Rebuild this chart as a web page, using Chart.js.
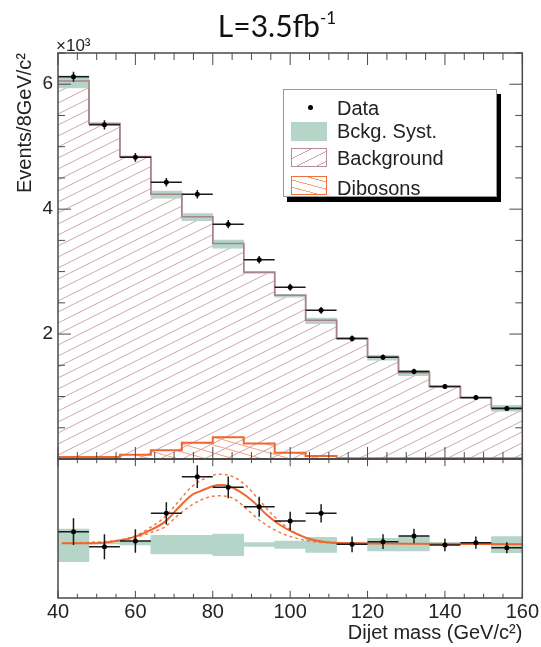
<!DOCTYPE html>
<html>
<head>
<meta charset="utf-8">
<script src="https://cdn.jsdelivr.net/npm/chart.js@4.4.1/dist/chart.umd.min.js"></script>
<style>
body { margin: 0; background: #fff; }
#wrap { position: relative; width: 541px; height: 647px; font-family: "Liberation Sans", Arial, sans-serif; color: #222; }
#c { position: absolute; left: 0; top: 0; }
#title { position: absolute; left: 177px; width: 200px; top: 10px; text-align: center; font: 30px/30px Lato, sans-serif; color: #111; }
#title sup { font-size: 17px; vertical-align: 13px; line-height: 0; }
#exp { position: absolute; left: 56px; top: 37px; font-size: 17px; line-height: 17px; }
#legend { position: absolute; left: 283px; top: 89px; width: 212px; height: 106px; border: 1px solid #999; background: #fff; box-shadow: 4px 5px 0 #000; }
.sw { position: absolute; left: 7px; width: 36px; box-sizing: border-box; }
.lab { position: absolute; left: 53px; font-size: 20px; line-height: 20px; white-space: nowrap; }
#dot { position: absolute; left: 24px; top: 15px; width: 5px; height: 5px; border-radius: 50%; background: #000; }
</style>
</head>
<body>
<div id="wrap">
  <canvas id="c" width="541" height="647"></canvas>
  <div id="title">L=3.5fb<sup>-1</sup></div>
  <div id="exp">×10³</div>
  <div id="legend">
    <div id="dot"></div>
    <div class="lab" style="top:8px">Data</div>
    <div class="sw" style="top:32px;height:19px;background:#b4d5c7"></div>
    <div class="lab" style="top:31px">Bckg. Syst.</div>
    <div class="sw" style="top:58px;height:19px;border:1px solid #b58f95;background:repeating-linear-gradient(153deg,transparent 0 8px,#c6a5aa 8px 9px)"></div>
    <div class="lab" style="top:58px">Background</div>
    <div class="sw" style="top:86px;height:19px;border:1.5px solid #f0703c;background:repeating-linear-gradient(15deg,transparent 0 6px,#f6a07a 6px 7px)"></div>
    <div class="lab" style="top:88px">Dibosons</div>
  </div>
</div>
<script>
// bin centres (GeV/c2), 8 GeV bins
var massBins = [44, 52, 60, 68, 76, 84, 92, 100, 108, 116, 124, 132, 140, 148, 156];
var binHalf = 4;
var massMax = 160;

// top panel, x10^3 events
var dataEvents = [6.12, 5.35, 4.83, 4.43, 4.24, 3.76, 3.19, 2.75, 2.38, 1.93, 1.63, 1.40, 1.16, 0.985, 0.81];
var dataErr = [0.08, 0.075, 0.07, 0.067, 0.068, 0.065, 0.06, 0.056, 0.055, 0.047, 0.044, 0.043, 0.038, 0.037, 0.033];
var background = [6.05, 5.37, 4.84, 4.24, 3.88, 3.45, 2.99, 2.62, 2.22, 1.93, 1.63, 1.38, 1.16, 0.98, 0.82];
var dibosons = [0.03, 0.03, 0.07, 0.14, 0.26, 0.35, 0.25, 0.10, 0.05, 0.01, 0.01, 0.01, 0.01, 0.01, 0.01];

// background systematic band (relative to background)
var systLow = [-0.11, -0.004, -0.01, -0.064, -0.064, -0.074, -0.018, -0.03, -0.054, -0.004, -0.046, -0.046, -0.006, -0.008, -0.056];
var systHigh = [0.085, 0.004, 0.012, 0.048, 0.048, 0.056, 0.004, 0.014, 0.036, 0.004, 0.03, 0.04, 0.004, 0.006, 0.04];

// lower panel: data - background
var residual = [0.07, -0.02, 0.014, 0.18, 0.40, 0.336, 0.22, 0.134, 0.18, -0.006, 0.01, 0.044, -0.01, 0.004, -0.026];

// diboson fit curve and its band
var fitMass = [41, 48, 52, 56.5, 60, 64, 67.7, 71, 74.6, 77, 80, 82, 84, 87, 90.5, 94, 97.4, 101, 105, 109.4, 115, 130, 160];
var fitCentral = [0.0, 0.0, 0.004, 0.02, 0.04, 0.08, 0.13, 0.21, 0.29, 0.315, 0.343, 0.35, 0.344, 0.31, 0.25, 0.17, 0.11, 0.064, 0.026, 0.006, 0.0, -0.002, -0.005];
var fitBandMass = [41, 56, 60, 64.2, 67.7, 71.1, 74.6, 78, 81.5, 85.2, 88.6, 92, 95.5, 98.9, 102.4, 105.8, 110, 116, 125];
var fitUp = [0, 0.02, 0.045, 0.10, 0.16, 0.25, 0.34, 0.39, 0.415, 0.40, 0.346, 0.26, 0.17, 0.10, 0.05, 0.02, 0.006, 0, 0];
var fitDown = [0, 0.015, 0.035, 0.066, 0.10, 0.17, 0.23, 0.27, 0.286, 0.27, 0.21, 0.14, 0.086, 0.05, 0.026, 0.01, 0.003, 0, 0];

var xTicks = [40, 60, 80, 100, 120, 140, 160];
var yTicks = [2, 4, 6];

var FONT = "'Liberation Sans', Arial, sans-serif";

function hatch(color, w, h, rising, lw) {
    var c = document.createElement("canvas");
    c.width = w;
    c.height = h;
    var g = c.getContext("2d");
    g.strokeStyle = color;
    g.lineWidth = lw;
    g.beginPath();
    for (var n = -1; n <= 1; n++) {
        if (rising) {
            g.moveTo(0, h + n * h);
            g.lineTo(w, n * h);
        } else {
            g.moveTo(0, n * h);
            g.lineTo(w, h + n * h);
        }
    }
    g.stroke();
    return g.createPattern(c, "repeat");
}

// histogram outline: one point per lower bin edge plus the last edge
function stepPoints(vals) {
    var pts = massBins.map(function (m, i) { return { x: m - binHalf, y: vals[i] }; });
    pts.push({ x: massMax, y: vals[vals.length - 1] });
    return pts;
}

function errorPath(vals) {
    var pts = [];
    massBins.forEach(function (m, i) {
        pts.push({ x: m - binHalf, y: vals[i] }, { x: m + binHalf, y: vals[i] }, { x: m, y: null });
        pts.push({ x: m, y: vals[i] - dataErr[i] }, { x: m, y: vals[i] + dataErr[i] }, { x: m, y: null });
    });
    return pts;
}

function pairs(xs, ys) {
    return xs.map(function (x, i) { return { x: x, y: ys[i] }; });
}

var framePlugin = {
    id: "frame",
    afterDatasetsDraw: function (chart) {
        var ctx = chart.ctx, a = chart.chartArea, x = chart.scales.x, y = chart.scales.y;
        var sep = y.getPixelForValue(0);
        ctx.save();
        ctx.strokeStyle = "#4a4a4a";
        ctx.lineWidth = 1;
        ctx.beginPath();
        for (var m = 40; m <= 160; m += 5) {
            var px = x.getPixelForValue(m);
            var len = m % 20 === 0 ? 12 : 7;
            ctx.moveTo(px, a.top); ctx.lineTo(px, a.top + len);
            ctx.moveTo(px, sep); ctx.lineTo(px, sep - len);
            ctx.moveTo(px, sep); ctx.lineTo(px, sep + len * 0.6);
            ctx.moveTo(px, a.bottom); ctx.lineTo(px, a.bottom - len * 0.6);
        }
        for (var v = 0.5; v <= 6.5; v += 0.5) {
            var py = y.getPixelForValue(v);
            var l2 = v % 2 === 0 ? 13 : 7;
            ctx.moveTo(a.left, py); ctx.lineTo(a.left + l2, py);
            ctx.moveTo(a.right, py); ctx.lineTo(a.right - l2, py);
        }
        ctx.stroke();
        ctx.lineWidth = 1.5;
        ctx.strokeRect(a.left, a.top, a.right - a.left, a.bottom - a.top);
        ctx.lineWidth = 2;
        ctx.beginPath();
        ctx.moveTo(a.left, sep);
        ctx.lineTo(a.right, sep);
        ctx.stroke();
        ctx.restore();
    }
};

var bgHatch = hatch("#c9a9ae", 22, 11, true, 1);
var dbHatch = hatch("#f6a07a", 28, 8, false, 1);

var bandBar = {
    type: "bar", grouped: false, barPercentage: 1, categoryPercentage: 1,
    backgroundColor: "#b4d5c7", borderWidth: 0, order: 8
};

new Chart(document.getElementById("c"), {
    type: "line",
    data: {
        datasets: [
            {
                data: stepPoints(background), yAxisID: "y", stepped: "before",
                fill: "origin", backgroundColor: bgHatch, borderColor: "#a8848a",
                borderWidth: 1.5, pointRadius: 0, order: 9
            },
            Object.assign({}, bandBar, {
                yAxisID: "y",
                data: massBins.map(function (m, i) {
                    return { x: m, y: [background[i] + systLow[i], background[i] + systHigh[i]] };
                })
            }),
            Object.assign({}, bandBar, {
                yAxisID: "y2",
                data: massBins.map(function (m, i) { return { x: m, y: [systLow[i], systHigh[i]] }; })
            }),
            {
                data: stepPoints(background), yAxisID: "y", stepped: "before", fill: false,
                borderColor: "#a8848a", borderWidth: 1.5, pointRadius: 0, order: 7
            },
            {
                data: stepPoints(dibosons), yAxisID: "y", stepped: "before",
                fill: "origin", backgroundColor: dbHatch, borderColor: "#f0662e",
                borderWidth: 2, pointRadius: 0, order: 6
            },
            {
                data: pairs(fitBandMass, fitUp), yAxisID: "y2", cubicInterpolationMode: "monotone",
                borderColor: "#f27a48", borderWidth: 1.5, borderDash: [3, 3], pointRadius: 0, fill: false, order: 4
            },
            {
                data: pairs(fitBandMass, fitDown), yAxisID: "y2", cubicInterpolationMode: "monotone",
                borderColor: "#f27a48", borderWidth: 1.5, borderDash: [3, 3], pointRadius: 0, fill: false, order: 4
            },
            {
                data: pairs(fitMass, fitCentral), yAxisID: "y2", cubicInterpolationMode: "monotone",
                borderColor: "#f0662e", borderWidth: 2, pointRadius: 0, fill: false, order: 3
            },
            {
                data: errorPath(dataEvents), yAxisID: "y", spanGaps: false,
                borderColor: "#1a1a1a", borderWidth: 1.5, pointRadius: 0, fill: false, order: 2
            },
            {
                data: errorPath(residual), yAxisID: "y2", spanGaps: false,
                borderColor: "#1a1a1a", borderWidth: 1.5, pointRadius: 0, fill: false, order: 2
            },
            {
                data: pairs(massBins, dataEvents), yAxisID: "y", showLine: false,
                pointRadius: 2.5, pointBackgroundColor: "#000", pointBorderWidth: 0, order: 1
            },
            {
                data: pairs(massBins, residual), yAxisID: "y2", showLine: false,
                pointRadius: 2.5, pointBackgroundColor: "#000", pointBorderWidth: 0, order: 1
            }
        ]
    },
    options: {
        responsive: false,
        animation: false,
        devicePixelRatio: 1,
        layout: { padding: { top: 53, right: 18, left: 0, bottom: 0 } },
        plugins: { legend: { display: false }, tooltip: { enabled: false } },
        scales: {
            x: {
                type: "linear", min: 40, max: 160, offset: false,
                grid: { display: false, drawTicks: false, offset: false },
                border: { display: false },
                afterBuildTicks: function (s) { s.ticks = xTicks.map(function (v) { return { value: v }; }); },
                afterFit: function (s) { s.height = 49; },
                ticks: { font: { family: FONT, size: 20 }, color: "#222", padding: 2, maxRotation: 0, autoSkip: false },
                title: {
                    display: true, text: "Dijet mass (GeV/c²)", align: "end",
                    font: { family: FONT, size: 20 }, color: "#222", padding: { top: 0, bottom: 2 }
                }
            },
            y: {
                position: "left", min: -2.2254, max: 6.5,
                grid: { display: false, drawTicks: false },
                border: { display: false },
                afterBuildTicks: function (s) { s.ticks = yTicks.map(function (v) { return { value: v }; }); },
                afterFit: function (s) { s.width = 58; },
                ticks: { font: { family: FONT, size: 19 }, color: "#222", padding: 5 },
                title: {
                    display: true, text: "Events/8GeV/c²", align: "end",
                    font: { family: FONT, size: 20 }, color: "#222", padding: { top: 13, bottom: 0 }
                }
            },
            y2: { position: "right", display: false, min: -0.3283, max: 2.943 }
        }
    },
    plugins: [framePlugin]
});
</script>
</body>
</html>
